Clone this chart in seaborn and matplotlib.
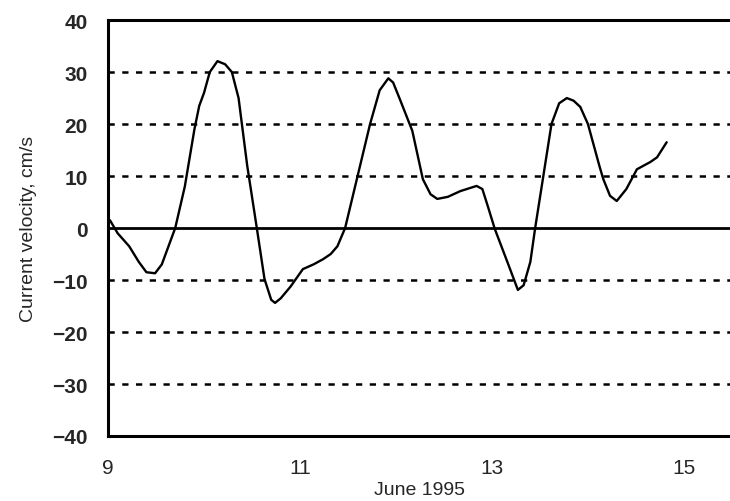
import matplotlib
matplotlib.use('Agg')
import numpy as np
import pandas as pd
import matplotlib.pyplot as plt
import seaborn as sns
from matplotlib.ticker import MultipleLocator

# current velocity record
day = [9.02, 9.10, 9.22, 9.32, 9.40, 9.49, 9.56, 9.63, 9.70, 9.80, 9.90, 9.95,
       10.00, 10.06, 10.14, 10.22, 10.29, 10.36, 10.45, 10.55, 10.63, 10.70,
       10.74, 10.80, 10.90, 11.03, 11.14, 11.24, 11.32, 11.39, 11.47, 11.60,
       11.73, 11.83, 11.92, 11.97, 12.04, 12.17, 12.28, 12.36, 12.43, 12.54,
       12.67, 12.84, 12.90, 12.96, 13.03, 13.16, 13.27, 13.33, 13.40, 13.45,
       13.53, 13.62, 13.70, 13.78, 13.85, 13.92, 14.00, 14.12, 14.16, 14.23,
       14.30, 14.40, 14.51, 14.65, 14.72, 14.82]
velocity = [1.5, -1.0, -3.5, -6.5, -8.5, -8.7, -7.0, -3.5, 0.0, 8.0, 19.0, 23.5,
            26.0, 30.0, 32.1, 31.5, 30.0, 25.0, 12.0, 0.0, -9.8, -13.8,
            -14.4, -13.5, -11.3, -7.9, -7.0, -6.0, -5.0, -3.5, 0.0, 10.0,
            20.0, 26.5, 28.8, 28.0, 24.8, 18.7, 9.4, 6.5, 5.6, 6.0,
            7.1, 8.1, 7.5, 4.0, -0.2, -6.5, -11.9, -11.0, -6.5, 0.0,
            9.4, 20.0, 24.0, 25.0, 24.5, 23.3, 20.0, 11.9, 9.4, 6.2,
            5.2, 7.5, 11.3, 12.7, 13.6, 16.5]

y_ticks = [-40, -30, -20, -10, 0, 10, 20, 30, 40]
x_ticks = [9, 11, 13, 15]

df = pd.DataFrame({'day': day, 'velocity': velocity})

sns.set_style("white")
plt.rcParams['font.family'] = ['Liberation Sans', 'DejaVu Sans']

fig = plt.figure(figsize=(7.30, 5.02), dpi=100)
ax = fig.add_axes([0.148, 0.1295, 0.852, 0.8285])

for v in y_ticks[1:-1]:
    if v == 0:
        ax.axhline(v, color='black', lw=2, zorder=1)
    else:
        ax.axhline(v, color='black', lw=1.8, ls=(0, (2.5, 3)), zorder=1)

sns.lineplot(data=df, x='day', y='velocity', color='black', lw=1.7, ax=ax, zorder=3)

ax.set_xlim(9, 15.48)
ax.set_ylim(-40, 40)
ax.set_yticks(y_ticks)
ax.set_xticks(x_ticks)
ax.xaxis.set_minor_locator(MultipleLocator(1))
ax.yaxis.set_minor_locator(MultipleLocator(5))
ax.tick_params(axis='both', which='major', direction='inout', length=5, width=1.8,
               labelsize=15)
ax.tick_params(axis='y', which='major', pad=12)
ax.tick_params(axis='x', which='major', pad=13)
ax.tick_params(axis='both', which='minor', direction='inout', length=4, width=1.5)
for lbl in ax.get_yticklabels():
    lbl.set_fontweight('bold')

for side in ['left', 'bottom', 'top']:
    ax.spines[side].set_visible(True)
    ax.spines[side].set_linewidth(2.2)
    ax.spines[side].set_color('black')
ax.spines['right'].set_visible(False)

ax.set_xlabel("June 1995", fontsize=14, labelpad=3)
ax.set_ylabel("Current velocity, cm/s", fontsize=14, labelpad=11)

plt.savefig("out.png", dpi=100)
plt.close()
